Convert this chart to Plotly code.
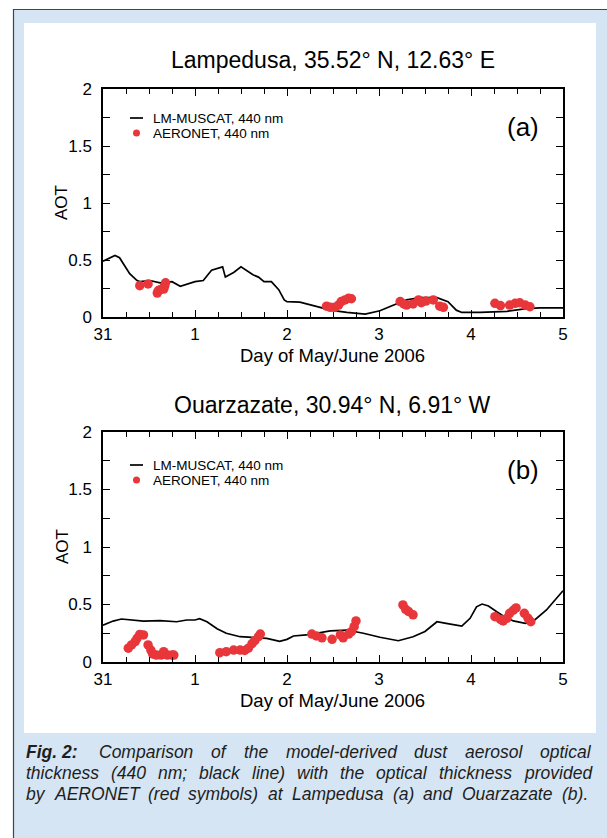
import plotly.graph_objects as go

# ---------------- data ----------------
tick_vals = [0, 1, 2, 3, 4, 5]
tick_text = ["31", "1", "2", "3", "4", "5"]
y_tick_vals = [0, 0.5, 1, 1.5, 2]
y_tick_text = ["0", "0.5", "1", "1.5", "2"]

# Lampedusa model (LM-MUSCAT) - days since 31 May 00 UTC
lam_model_x = [0.0, 0.06, 0.13, 0.18, 0.22, 0.29, 0.37, 0.40, 0.51, 0.62, 0.75, 0.84, 1.0, 1.09,
               1.18, 1.25, 1.30, 1.33, 1.42, 1.50, 1.56, 1.63, 1.69, 1.75, 1.83, 1.91, 1.97, 2.0,
               2.14, 2.25, 2.36, 2.47, 2.65, 2.85, 3.01, 3.16, 3.30, 3.45, 3.63, 3.75, 3.84, 3.90,
               4.10, 4.39, 4.60, 4.75, 5.0]
lam_model_y = [0.49, 0.51, 0.54, 0.52, 0.47, 0.38, 0.32, 0.31, 0.32, 0.30, 0.31, 0.27, 0.31, 0.32,
               0.41, 0.43, 0.44, 0.35, 0.39, 0.44, 0.41, 0.37, 0.35, 0.31, 0.31, 0.24, 0.15, 0.135,
               0.13, 0.11, 0.085, 0.06, 0.04, 0.025, 0.055, 0.105, 0.15, 0.17, 0.17, 0.135, 0.06, 0.04,
               0.04, 0.05, 0.073, 0.08, 0.08]

# Lampedusa AERONET
lam_obs_x = [0.40, 0.49, 0.59, 0.60, 0.62, 0.65, 0.66, 0.67, 0.68,
             2.43, 2.47, 2.52, 2.56, 2.59, 2.63, 2.67, 2.70,
             3.23, 3.27, 3.30, 3.37, 3.43, 3.46, 3.51, 3.59, 3.66, 3.70,
             4.26, 4.32, 4.42, 4.48, 4.53, 4.59, 4.64]
lam_obs_y = [0.275, 0.29, 0.21, 0.23, 0.24, 0.25, 0.245, 0.27, 0.30,
             0.095, 0.085, 0.085, 0.105, 0.135, 0.15, 0.165, 0.16,
             0.135, 0.115, 0.105, 0.115, 0.15, 0.125, 0.14, 0.15, 0.095, 0.085,
             0.12, 0.10, 0.105, 0.12, 0.125, 0.105, 0.09]

# Ouarzazate model
oua_model_x = [0.0, 0.11, 0.20, 0.44, 0.62, 0.80, 0.91, 1.0, 1.05, 1.13, 1.24, 1.34, 1.49, 1.63,
               1.78, 1.92, 2.0, 2.07, 2.21, 2.47, 2.65, 2.83, 3.01, 3.21, 3.37, 3.50, 3.57, 3.63,
               3.73, 3.90, 3.99, 4.06, 4.12, 4.19, 4.28, 4.35, 4.46, 4.59, 4.68, 4.82, 5.0]
oua_model_y = [0.32, 0.356, 0.374, 0.356, 0.36, 0.35, 0.365, 0.365, 0.377, 0.35, 0.29, 0.25, 0.22, 0.215,
               0.205, 0.18, 0.197, 0.226, 0.235, 0.27, 0.278, 0.25, 0.215, 0.185, 0.22, 0.265, 0.31, 0.35,
               0.336, 0.313, 0.38, 0.48, 0.504, 0.487, 0.437, 0.40, 0.357, 0.336, 0.357, 0.452, 0.62]

# Ouarzazate AERONET
oua_obs_x = [0.275, 0.31, 0.35, 0.37, 0.40, 0.44, 0.49, 0.52, 0.54, 0.58, 0.63, 0.66, 0.70, 0.75, 0.77,
             1.27, 1.34, 1.42, 1.49, 1.54, 1.58, 1.62, 1.65, 1.69, 1.71,
             2.27, 2.32, 2.38, 2.49, 2.58, 2.61, 2.67, 2.70, 2.73, 2.75,
             3.26, 3.29, 3.32, 3.37,
             4.26, 4.32, 4.35, 4.39, 4.42, 4.46, 4.49, 4.58, 4.62, 4.65]
oua_obs_y = [0.12, 0.148, 0.177, 0.206, 0.24, 0.235, 0.148, 0.104, 0.07, 0.06, 0.06, 0.09, 0.06, 0.06, 0.06,
             0.081, 0.09, 0.104, 0.104, 0.10, 0.12, 0.16, 0.185, 0.22, 0.243,
             0.243, 0.226, 0.21, 0.197, 0.235, 0.21, 0.243, 0.264, 0.307, 0.357,
             0.496, 0.458, 0.44, 0.41,
             0.394, 0.37, 0.357, 0.38, 0.423, 0.45, 0.47, 0.423, 0.38, 0.35]

titles = ["Lampedusa, 35.52\u00b0 N, 12.63\u00b0 E", "Ouarzazate, 30.94\u00b0 N, 6.91\u00b0 W"]
panel_labels = ["(a)", "(b)"]
legend_names = ["LM-MUSCAT, 440 nm", "AERONET, 440 nm"]
x_title = "Day of May/June 2006"
y_title = "AOT"
caption_bold = "Fig. 2:"
caption_lines = [
    "Comparison of the model-derived dust aerosol optical",
    "thickness (440 nm; black line) with the optical thickness provided",
    "by AERONET (red symbols) at Lampedusa (a) and Ouarzazate (b).",
]

# ---------------- layout helpers ----------------
W, H = 607, 838
RED = "#e8363a"
BLUE_BG = "#d5e5f3"
FONT = "Liberation Sans, Arial, sans-serif"


def fx(px):
    return px / W


def fy(py):
    return 1 - py / H


# Helvetica / Arial advance widths (1/1000 em) for caption justification
CW = {' ': 278, '(': 333, ')': 333, ',': 278, '-': 333, '.': 278, ';': 278, ':': 278, '/': 278,
      'A': 667, 'B': 667, 'C': 722, 'D': 722, 'E': 667, 'F': 611, 'N': 722, 'O': 778, 'R': 722, 'T': 611,
      'L': 556, 'M': 833,
      'a': 556, 'b': 556, 'c': 500, 'd': 556, 'e': 556, 'f': 278, 'g': 556, 'h': 556, 'i': 222, 'j': 222,
      'k': 500, 'l': 222, 'm': 833, 'n': 556, 'o': 556, 'p': 556, 'q': 556, 'r': 333, 's': 500, 't': 278,
      'u': 556, 'v': 500, 'w': 722, 'x': 500, 'y': 500, 'z': 500}
CWB = {'F': 611, 'i': 278, 'g': 611, '.': 278, ' ': 278, ':': 333}


def text_em(s, bold=False):
    tot = 0
    for ch in s:
        if ch.isdigit():
            tot += 556
        elif bold and ch in CWB:
            tot += CWB[ch]
        else:
            tot += CW.get(ch, 556)
    return tot / 1000.0


fig = go.Figure()

panels = [
    dict(xa="x", ya="y", top=89, bot=317, mx=lam_model_x, my=lam_model_y, ox=lam_obs_x, oy=lam_obs_y,
         title_y=60, xt_y=355, lab_y=127, leg_y=118),
    dict(xa="x2", ya="y2", top=432, bot=662, mx=oua_model_x, my=oua_model_y, ox=oua_obs_x, oy=oua_obs_y,
         title_y=405, xt_y=700, lab_y=470, leg_y=465),
]

left, right = 103, 563

for i, p in enumerate(panels):
    fig.add_trace(go.Scatter(x=p["mx"], y=p["my"], mode="lines", xaxis=p["xa"], yaxis=p["ya"],
                             line=dict(color="black", width=1.7), showlegend=False, name=legend_names[0]))
    fig.add_trace(go.Scatter(x=p["ox"], y=p["oy"], mode="markers", xaxis=p["xa"], yaxis=p["ya"],
                             marker=dict(color=RED, size=9.5, line=dict(width=0)), showlegend=False,
                             name=legend_names[1]))

axis_common = dict(showgrid=False, zeroline=False, showline=True, linecolor="black", linewidth=1.5,
                   mirror="allticks", ticks="inside", tickcolor="black", tickwidth=1.2, automargin=False,
                   tickfont=dict(family=FONT, size=17, color="black"))

for i, p in enumerate(panels):
    sfx = "" if i == 0 else "2"
    fig.update_layout(**{
        "xaxis" + sfx: dict(axis_common, domain=[fx(left), fx(right)], range=[0, 5],
                            tickvals=tick_vals, ticktext=tick_text, ticklen=7, ticklabelstandoff=1,
                            minor=dict(dtick=0.25, tick0=0, ticklen=5, ticks="inside", tickcolor="black",
                                       tickwidth=1.2),
                            anchor="y" + sfx),
        "yaxis" + sfx: dict(axis_common, domain=[fy(p["bot"]), fy(p["top"])], range=[0, 2],
                            tickvals=y_tick_vals, ticktext=y_tick_text, ticklen=7, ticklabelstandoff=6,
                            minor=dict(dtick=0.25, tick0=0, ticklen=7, ticks="inside", tickcolor="black",
                                       tickwidth=1.2),
                            anchor="x" + sfx),
    })

shapes = [
    # light blue frame
    dict(type="rect", xref="paper", yref="paper", x0=fx(13), x1=1.0, y0=0.0, y1=fy(9),
         fillcolor=BLUE_BG, line=dict(width=0), layer="below"),
    dict(type="line", xref="paper", yref="paper", x0=fx(13), x1=1.0, y0=fy(9.5), y1=fy(9.5),
         line=dict(color="#444444", width=1.2), layer="below"),
    dict(type="line", xref="paper", yref="paper", x0=fx(13.5), x1=fx(13.5), y0=0.0, y1=fy(9),
         line=dict(color="#444444", width=1.2), layer="below"),
    # white inner panel
    dict(type="rect", xref="paper", yref="paper", x0=fx(24), x1=fx(596), y0=fy(733), y1=fy(23),
         fillcolor="white", line=dict(width=0), layer="below"),
]

annotations = []
for i, p in enumerate(panels):
    annotations.append(dict(text=titles[i], xref="paper", yref="paper", x=fx(333), y=fy(p["title_y"]),
                            xanchor="center", yanchor="middle", showarrow=False,
                            font=dict(family=FONT, size=23, color="black")))
    annotations.append(dict(text=x_title, xref="paper", yref="paper", x=fx(333), y=fy(p["xt_y"]),
                            xanchor="center", yanchor="middle", showarrow=False,
                            font=dict(family=FONT, size=18.5, color="black")))
    annotations.append(dict(text=y_title, xref="paper", yref="paper", x=fx(62), y=fy((p["top"] + p["bot"]) / 2),
                            xanchor="center", yanchor="middle", showarrow=False, textangle=-90,
                            font=dict(family=FONT, size=17, color="black")))
    annotations.append(dict(text=panel_labels[i], xref="paper", yref="paper", x=fx(523), y=fy(p["lab_y"]),
                            xanchor="center", yanchor="middle", showarrow=False,
                            font=dict(family=FONT, size=26, color="black")))
    # legend
    ly = p["leg_y"]
    shapes.append(dict(type="line", xref="paper", yref="paper", x0=fx(130), x1=fx(143), y0=fy(ly), y1=fy(ly),
                       line=dict(color="black", width=1.7)))
    shapes.append(dict(type="circle", xref="paper", yref="paper", x0=fx(133), x1=fx(140),
                       y0=fy(ly + 15 + 3.5), y1=fy(ly + 15 - 3.5), fillcolor=RED, line=dict(width=0)))
    for k, name in enumerate(legend_names):
        annotations.append(dict(text=name, xref="paper", yref="paper", x=fx(151), y=fy(ly + 15 * k),
                                xanchor="left", yanchor="middle", showarrow=False,
                                font=dict(family=FONT, size=13.5, color="black")))

# caption: justified lines, word by word
cap_size = 17.5
cap_left, cap_rights = 25, [590, 590, 587]
for k, line in enumerate(caption_lines):
    words = [(w, False) for w in line.split(" ")]
    if k == 0:
        words = [(caption_bold, True)] + words
    widths = [text_em(w, b) * cap_size for w, b in words]
    extra = 4 if k == 0 else 0
    gap = (cap_rights[k] - cap_left - sum(widths) - extra) / (len(words) - 1)
    xpos = cap_left
    for j, (w, b) in enumerate(words):
        txt = "<b><i>%s</i></b>" % w if b else "<i>%s</i>" % w
        annotations.append(dict(text=txt, xref="paper", yref="paper", x=fx(xpos), y=fy(752 + 21 * k),
                                xanchor="left", yanchor="middle", showarrow=False, borderpad=0,
                                font=dict(family=FONT, size=cap_size, color="#1e1e1e")))
        xpos += widths[j] + gap + (extra if j == 0 else 0)

fig.update_layout(width=W, height=H, margin=dict(l=0, r=0, t=0, b=0, pad=0, autoexpand=False),
                  paper_bgcolor="white", plot_bgcolor="rgba(0,0,0,0)", shapes=shapes,
                  annotations=annotations, showlegend=False)

fig.write_html("out.html")
